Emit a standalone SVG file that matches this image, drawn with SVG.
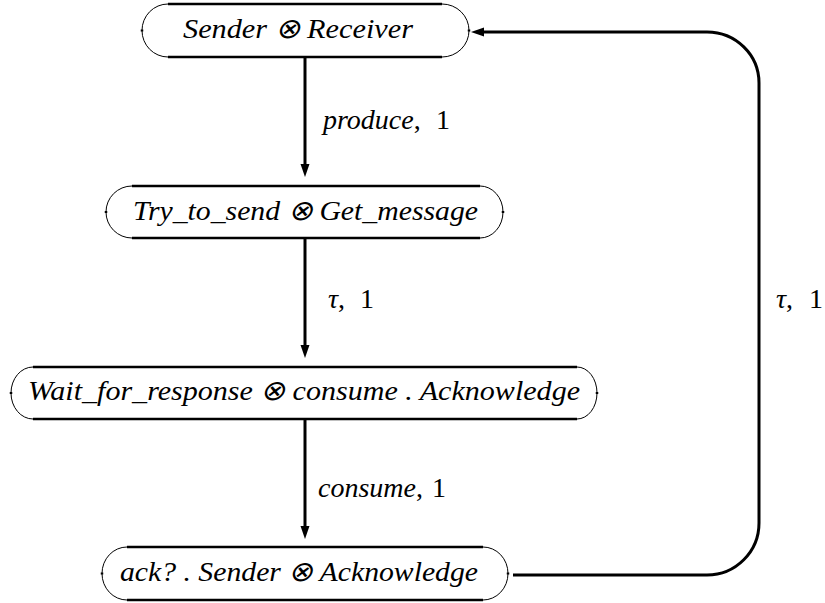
<svg xmlns="http://www.w3.org/2000/svg" width="825" height="603" viewBox="0 0 825 603">
<style>
.bg{fill:#fff}
.edge{fill:none;stroke:#000;stroke-width:2.5}
.arc{fill:none;stroke:#000;stroke-width:1}
.tick{fill:none;stroke:#000;stroke-width:2.5}
.conn{fill:none;stroke:#000;stroke-width:3}
.head{fill:#000}
.t{font-family:'Liberation Serif','Times New Roman',serif;font-size:28px;fill:#000}
.l{font-family:'Liberation Serif','Times New Roman',serif;font-size:28px;fill:#000}
.it{font-style:italic}
</style>
<rect class="bg" x="0" y="0" width="825" height="603"/>
<g id="connectors">
  <path class="conn" d="M305 58 V166"/>
  <polygon class="head" points="300.5,164 309.5,164 305,177"/>
  <path class="conn" d="M305 239 V347"/>
  <polygon class="head" points="300.5,345 309.5,345 305,358"/>
  <path class="conn" d="M305 420 V528"/>
  <polygon class="head" points="300.5,526 309.5,526 305,539"/>
  <path class="conn" d="M513 575 H707 A52 52 0 0 0 759 523 V83 A52 51 0 0 0 707 32 H482"/>
  <polygon class="head" points="484,27.5 484,36.5 471,32"/>
  <text class="l" x="323" y="129"><tspan class="it">produce</tspan>,<tspan x="436">1</tspan></text>
  <text class="l" x="328" y="308"><tspan class="it">τ</tspan>,<tspan x="360">1</tspan></text>
  <text class="l" x="318" y="497"><tspan class="it">consume</tspan>,<tspan x="432">1</tspan></text>
  <text class="l" x="776" y="308"><tspan class="it">τ</tspan>,<tspan x="809">1</tspan></text>
</g>
<g id="n1">
  <path class="edge" d="M168 4 H442 M168 57 H442"/>
  <path class="arc" d="M168 4 A26 26.5 0 0 0 168 57 M442 4 A27 26.5 0 0 1 442 57"/>
  <path class="tick" d="M142 29.5 v2 M469 29.5 v2"/>
  <text class="t it" x="183" y="38" textLength="230" lengthAdjust="spacingAndGlyphs">Sender ⊗ Receiver</text>
</g>
<g id="n2">
  <path class="edge" d="M132 186 H480 M132 238 H480"/>
  <path class="arc" d="M132 186 A26 26 0 0 0 132 238 M480 186 A23 26 0 0 1 480 238"/>
  <path class="tick" d="M106 211 v2 M503 211 v2"/>
  <text class="t it" x="133" y="220" textLength="345" lengthAdjust="spacingAndGlyphs">Try_to_send ⊗ Get_message</text>
</g>
<g id="n3">
  <path class="edge" d="M33 367 H577 M33 419 H577"/>
  <path class="arc" d="M33 367 A22 26 0 0 0 33 419 M577 367 A20 26 0 0 1 577 419"/>
  <path class="tick" d="M11 392 v2 M597 392 v2"/>
  <text class="t it" x="28" y="400" textLength="552" lengthAdjust="spacingAndGlyphs">Wait_for_response ⊗ consume . Acknowledge</text>
</g>
<g id="n4">
  <path class="edge" d="M127 547 H483 M127 600 H483"/>
  <path class="arc" d="M127 547 A25 26.5 0 0 0 127 600 M483 547 A25 26.5 0 0 1 483 600"/>
  <path class="tick" d="M102 572.5 v2 M508 572.5 v2"/>
  <text class="t it" x="120" y="581" textLength="358" lengthAdjust="spacingAndGlyphs">ack? . Sender ⊗ Acknowledge</text>
</g>
</svg>
